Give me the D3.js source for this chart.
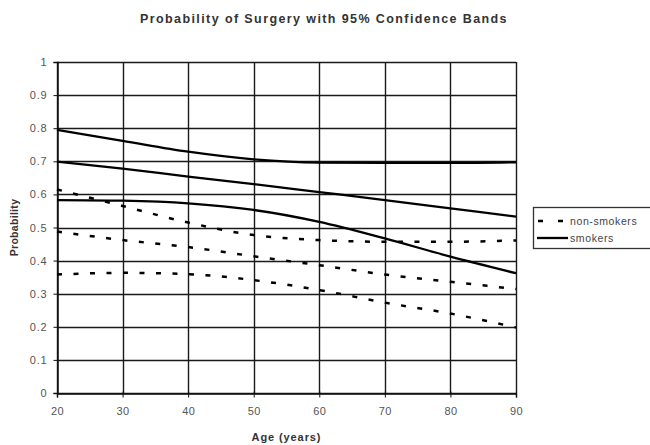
<!DOCTYPE html>
<html>
<head>
<meta charset="utf-8">
<script src="https://cdn.jsdelivr.net/npm/d3@7"></script>
<style>
  body { margin: 0; background: #fff; }
  svg { font-family: "Liberation Sans", Arial, sans-serif; }
</style>
</head>
<body>
<div id="chart"></div>
<script>
// Data
var ages = [20, 30, 40, 50, 60, 70, 80, 90];
var smokersUpper = [0.795, 0.762, 0.729, 0.706, 0.696, 0.695, 0.695, 0.697];
var smokersMid = [0.699, 0.678, 0.654, 0.631, 0.607, 0.583, 0.558, 0.533];
var smokersLower = [0.583, 0.581, 0.573, 0.553, 0.517, 0.467, 0.412, 0.362];
var nonUpper = [0.615, 0.565, 0.515, 0.477, 0.462, 0.457, 0.457, 0.461];
var nonMid = [0.488, 0.462, 0.441, 0.413, 0.386, 0.358, 0.336, 0.314];
var nonLower = [0.358, 0.363, 0.359, 0.341, 0.311, 0.273, 0.240, 0.198];
var xTicks = [20, 30, 40, 50, 60, 70, 80, 90];
var yTicks = [0, 0.1, 0.2, 0.3, 0.4, 0.5, 0.6, 0.7, 0.8, 0.9, 1];

var W = 650, H = 445;
var m = {left: 57, right: 134, top: 62, bottom: 52};

var svg = d3.select("#chart").append("svg")
    .attr("width", W)
    .attr("height", H);

var x = d3.scaleLinear().domain([20, 90]).range([m.left, W - m.right]);
var y = d3.scaleLinear().domain([0, 1]).range([H - m.bottom, m.top]);

// Grid
svg.append("g")
    .selectAll("line")
    .data(yTicks)
    .enter().append("line")
        .attr("x1", x(20)).attr("x2", x(90))
        .attr("y1", function(d) { return Math.round(y(d)) + 0.5; })
        .attr("y2", function(d) { return Math.round(y(d)) + 0.5; })
        .attr("stroke", "#1a1a1a")
        .attr("stroke-width", 1.3);

svg.append("g")
    .selectAll("line")
    .data(xTicks)
    .enter().append("line")
        .attr("x1", function(d) { return Math.round(x(d)) + 0.5; })
        .attr("x2", function(d) { return Math.round(x(d)) + 0.5; })
        .attr("y1", y(0)).attr("y2", y(1))
        .attr("stroke", "#1a1a1a")
        .attr("stroke-width", 1.4);

// Axes
var yAxis = d3.axisLeft(y).tickValues(yTicks).tickSize(4).tickPadding(6)
    .tickFormat(function(d) { return d === 0 || d === 1 ? d : d3.format(".1f")(d); });
svg.append("g")
    .attr("transform", "translate(" + (Math.round(x(20)) + 0.5) + ",0)")
    .call(yAxis)
    .call(function(g) {
        g.selectAll("text").style("font-size", "11px").style("letter-spacing", "0.8px").attr("fill", "#555");
        g.selectAll("line").attr("stroke", "#111");
        g.select(".domain").attr("stroke", "#111").attr("stroke-width", 1.5);
    });

var xAxis = d3.axisBottom(x).tickValues(xTicks).tickSize(4).tickPadding(10);
svg.append("g")
    .attr("transform", "translate(0," + (Math.round(y(0)) + 0.5) + ")")
    .call(xAxis)
    .call(function(g) {
        g.selectAll("text").style("font-size", "11px").style("letter-spacing", "0.4px").attr("fill", "#555");
        g.selectAll("line").attr("stroke", "#111").attr("transform", "translate(0,-2)").attr("y2", 6);
        g.select(".domain").attr("stroke", "#111").attr("stroke-width", 1.5);
    });

// Lines
var line = d3.line()
    .x(function(d, i) { return x(ages[i]); })
    .y(function(d) { return y(d); })
    .curve(d3.curveMonotoneX);

[nonUpper, nonMid, nonLower].forEach(function(s) {
    svg.append("path")
        .attr("d", line(s))
        .attr("fill", "none")
        .attr("stroke", "#000")
        .attr("stroke-width", 2.5)
        .attr("stroke-dasharray", "5,11.5");
});

[smokersUpper, smokersMid, smokersLower].forEach(function(s) {
    svg.append("path")
        .attr("d", line(s))
        .attr("fill", "none")
        .attr("stroke", "#000")
        .attr("stroke-width", 2.3);
});

// Titles
svg.append("text")
    .attr("x", 324).attr("y", 23)
    .attr("text-anchor", "middle")
    .style("font-size", "12.5px").style("font-weight", "bold")
    .style("letter-spacing", "1.4px")
    .attr("fill", "#333")
    .text("Probability of Surgery with 95%  Confidence Bands");

svg.append("text")
    .attr("x", (x(20) + x(90)) / 2).attr("y", 441)
    .attr("text-anchor", "middle")
    .style("font-size", "11px").style("font-weight", "bold")
    .style("letter-spacing", "0.9px")
    .attr("fill", "#333")
    .text("Age (years)");

svg.append("text")
    .attr("transform", "translate(18," + y(0.5) + ") rotate(-90)")
    .attr("text-anchor", "middle")
    .style("font-size", "10.5px").style("font-weight", "bold")
    .style("letter-spacing", "0.3px")
    .attr("fill", "#333")
    .text("Probability");

// Legend
var legend = svg.append("g").attr("transform", "translate(533,207)");
legend.append("rect")
    .attr("x", 0.5).attr("y", 0.5)
    .attr("width", 122).attr("height", 41)
    .attr("fill", "#fff")
    .attr("stroke", "#333")
    .attr("stroke-width", 1.3);

var items = [
    {name: "non-smokers", dash: "5,15"},
    {name: "smokers", dash: null}
];
items.forEach(function(it, i) {
    var yy = 14 + i * 17;
    legend.append("line")
        .attr("x1", i === 0 ? 5 : 4).attr("x2", i === 0 ? 30 : 35)
        .attr("y1", yy).attr("y2", yy)
        .attr("stroke", "#000")
        .attr("stroke-width", 2.3)
        .attr("stroke-dasharray", it.dash);
    legend.append("text")
        .attr("x", 37).attr("y", yy + 4)
        .style("font-size", "10.5px")
        .style("letter-spacing", "0.6px")
        .attr("fill", "#444")
        .text(it.name);
});
</script>
</body>
</html>
